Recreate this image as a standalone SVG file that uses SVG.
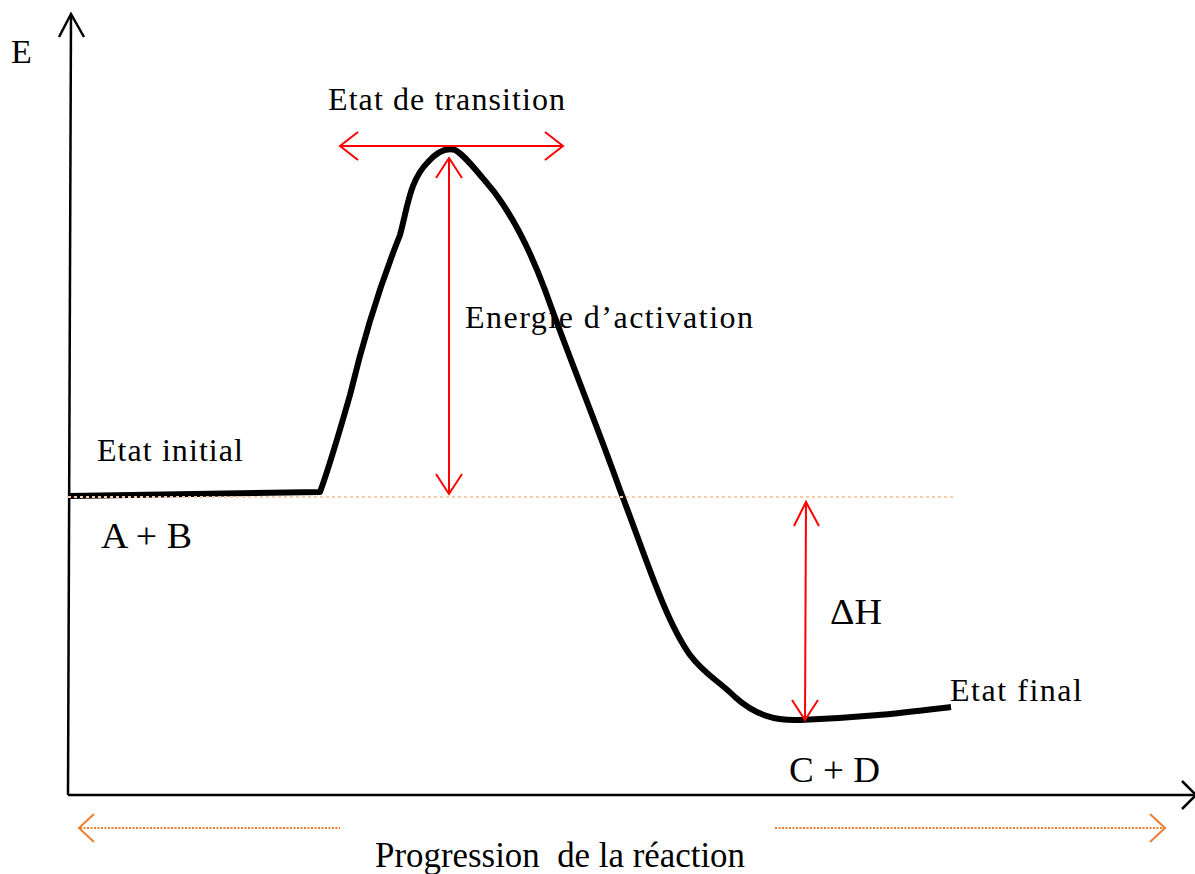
<svg xmlns="http://www.w3.org/2000/svg" width="1195" height="874" viewBox="0 0 1195 874">
<style>
.t{font-family:"Liberation Serif","Times New Roman",serif;fill:#000}
.ax{fill:none;stroke:#000;stroke-width:2.5}
.red{fill:none;stroke:#ff0000;stroke-width:2}
.or{fill:none;stroke:#ed7d31;stroke-width:2}
</style>
<rect width="1195" height="874" fill="#fff"/>
<g id="axes">
<path class="ax" d="M68,795 L71,14"/>
<path class="ax" d="M59,37 L71,14 L84,37"/>
<path class="ax" d="M68,795 L1195,795"/>
<path class="ax" d="M1182,781 L1196,795 L1182,809"/>
</g>
<g id="curve">
<path d="M68,496 L320,492 C330,465 340,430 350,395 C362,345 378,290 400,235 C408,205 410,180 428,162 C436,153 445,147 455,150 C465,155 480,175 495,193 C515,220 530,250 545,290 C570,360 595,420 620,490 C645,555 665,620 690,655 C705,675 718,680 735,697 C755,715 775,721 800,720 C860,718 900,713 951,707" fill="none" stroke="#000" stroke-width="6" stroke-linejoin="round"/>
</g>
<g id="baseline">
<line x1="68" y1="497" x2="956" y2="497" stroke="#f8cbad" stroke-width="2" stroke-dasharray="3,3"/>
</g>
<g id="connectors">
<path class="red" d="M340,146 L563,146"/>
<path class="red" d="M358,132 L340,146 L358,160"/>
<path class="red" d="M545,132 L563,146 L545,160"/>
<path class="red" d="M449,158 L449,494"/>
<path class="red" d="M436,178 L449,158 L462,178"/>
<path class="red" d="M436,474 L449,494 L462,474"/>
<path class="red" d="M806,502 L805,720"/>
<path class="red" d="M794,526 L806,502 L819,526"/>
<path class="red" d="M792,700 L805,720 L818,700"/>
<path class="or" d="M80,828 L340,828" stroke-dasharray="2,1.5"/>
<path class="or" d="M94,814 L79,828 L94,842"/>
<path class="or" d="M775,828 L1165,828" stroke-dasharray="2,1.5"/>
<path class="or" d="M1150,814 L1165,828 L1150,842"/>
</g>
<g id="labels">
<text class="t" x="11" y="63" font-size="34">E</text>
<text class="t" x="328" y="110" font-size="32" textLength="237" lengthAdjust="spacing">Etat de transition</text>
<text class="t" x="465" y="328" font-size="32" textLength="288" lengthAdjust="spacing">Energie d’activation</text>
<text class="t" x="97" y="461" font-size="32" textLength="146" lengthAdjust="spacing">Etat initial</text>
<text class="t" x="101" y="548" font-size="36" textLength="91" lengthAdjust="spacingAndGlyphs">A + B</text>
<text class="t" x="830" y="624" font-size="36" textLength="52" lengthAdjust="spacingAndGlyphs">ΔH</text>
<text class="t" x="950" y="701" font-size="32" textLength="132" lengthAdjust="spacing">Etat final</text>
<text class="t" x="789" y="782" font-size="36" textLength="91" lengthAdjust="spacingAndGlyphs">C + D</text>
<text class="t" x="375" y="867" font-size="36" textLength="370" lengthAdjust="spacingAndGlyphs" xml:space="preserve">Progression  de la réaction</text>
</g>
</svg>
